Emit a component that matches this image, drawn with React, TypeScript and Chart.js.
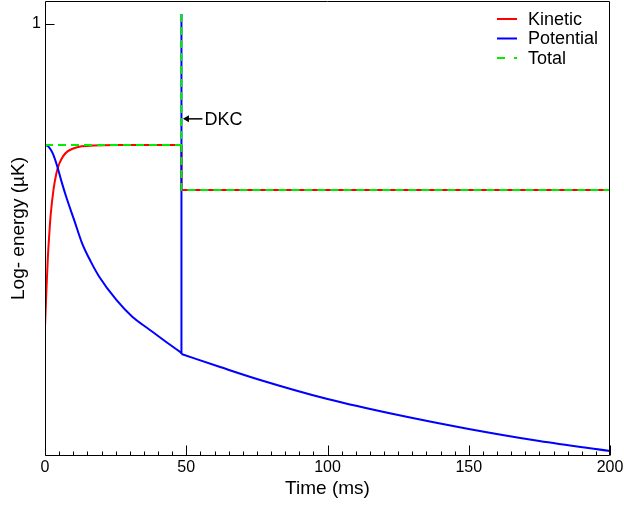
import { useEffect, useRef } from "react";
import { Chart, registerables } from "chart.js";

Chart.register(...registerables);

// Energy traces (µK) against time (ms); DKC pulse at 48.3 ms
const kineticTime = [0, 0.5, 1, 1.5, 2, 3, 4, 5, 6.5, 8, 10, 13, 17, 25, 48.3];
const kineticEnergy = [0.199, 0.242, 0.287, 0.325, 0.361, 0.413, 0.45, 0.474, 0.495, 0.507, 0.515, 0.521, 0.523, 0.5245, 0.5247];
const kineticAfterTime = [48.3, 48.3, 200];
const kineticAfterEnergy = [0.5247, 0.4127, 0.4127];

const potentialTime = [0, 1, 2, 3, 4.3, 5.7, 7.5, 10.3, 13.1, 16.3, 19.2, 25.2, 30.9, 36.9, 42.9, 48.3];
const potentialEnergy = [0.5247, 0.522, 0.512, 0.497, 0.469, 0.435, 0.398, 0.352, 0.311, 0.281, 0.26, 0.23, 0.21, 0.1963, 0.1836, 0.1732];
const potentialSpikeTime = [48.3, 48.3, 48.3];
const potentialSpikeEnergy = [0.1732, 1.0547, 0.1722];
const potentialAfterTime = [48.3, 62, 75, 100, 125, 150, 175, 200];
const potentialAfterEnergy = [0.1722, 0.1607, 0.1508, 0.1355, 0.1244, 0.1155, 0.1083, 0.1027];

// Total: flat, pulse peak, then flat again (the pulse is stroked once, top to bottom)
const totalTime = [0, 48.3, 48.3, 48.3, 48.3, 200];
const totalEnergy: (number | null)[] = [0.5247, 0.5247, null, 1.0547, 0.4127, 0.4127];

const xTickValues = [0, 50, 100, 150, 200];
const xMinorStep = 5;
const yTickValues = [1];

const seriesNames = ["Kinetic", "Potential", "Total"];
const seriesColors = ["#ff0000", "#0000ff", "#00ee00"];
const totalDash = [8, 5];
const legendDashes = [[], [], [8, 9]];

const dkcTime = 48.3;
const dkcLevel = 0.603;
const dkcLabel = "DKC";

const FONT = "'Liberation Sans', Arial, Helvetica, sans-serif";

const toPoints = (t: number[], v: (number | null)[]) => t.map((x, i) => ({ x, y: v[i] }));

const line = (data: { x: number; y: number | null }[], color: string, order: number, extra: any = {}) => ({
  data,
  borderColor: color,
  borderWidth: 2,
  pointRadius: 0,
  cubicInterpolationMode: "monotone",
  order,
  ...extra,
});

// Closed frame with inward tick marks
const framePlugin = {
  id: "frame",
  afterDatasetsDraw(chart: any) {
    const { ctx, chartArea, scales } = chart;
    const { left, right, top, bottom } = chartArea;
    const xs = scales.x;
    const ys = scales.y;
    const L = Math.round(left) + 0.5;
    const R = Math.round(right) - 0.5;
    const T = Math.round(top) + 0.5;
    const B = Math.round(bottom) - 0.5;
    ctx.save();
    ctx.strokeStyle = "#000";
    ctx.lineWidth = 1;
    ctx.beginPath();
    ctx.rect(L, T, R - L, B - T);
    ctx.stroke();
    ctx.beginPath();
    for (let v = xs.min; v <= xs.max + 1e-9; v += xMinorStep) {
      const px = Math.round(xs.getPixelForValue(v)) + 0.5;
      const major = xTickValues.includes(v);
      ctx.moveTo(px, B);
      ctx.lineTo(px, B - (major ? 10 : 4));
    }
    for (const v of yTickValues) {
      const py = Math.round(ys.getPixelForValue(v)) + 0.5;
      ctx.moveTo(L, py);
      ctx.lineTo(L + 9, py);
    }
    ctx.stroke();
    ctx.restore();
  },
};

// DKC marker arrow and label
const dkcPlugin = {
  id: "dkc",
  afterDatasetsDraw(chart: any) {
    const { ctx, scales } = chart;
    const px = scales.x.getPixelForValue(dkcTime);
    const py = scales.y.getPixelForValue(dkcLevel);
    const tip = px + 1.5;
    const tail = px + 21;
    ctx.save();
    ctx.strokeStyle = "#000";
    ctx.fillStyle = "#000";
    ctx.lineWidth = 1.5;
    ctx.beginPath();
    ctx.moveTo(tail, py);
    ctx.lineTo(tip + 4, py);
    ctx.stroke();
    ctx.beginPath();
    ctx.moveTo(tip, py);
    ctx.lineTo(tip + 6, py - 3.5);
    ctx.lineTo(tip + 6, py + 3.5);
    ctx.closePath();
    ctx.fill();
    ctx.font = `18px ${FONT}`;
    ctx.textBaseline = "middle";
    ctx.textAlign = "left";
    ctx.fillText(dkcLabel, tail + 2, py + 1);
    ctx.restore();
  },
};

// Legend in the top-right corner of the plot
const legendPlugin = {
  id: "cornerLegend",
  afterDraw(chart: any) {
    const { ctx, chartArea } = chart;
    const x0 = chartArea.right - 113;
    const y0 = chartArea.top + 18;
    const gap = 19.5;
    ctx.save();
    ctx.font = `18px ${FONT}`;
    ctx.textBaseline = "middle";
    ctx.textAlign = "left";
    seriesNames.forEach((name, i) => {
      const y = y0 + i * gap;
      ctx.strokeStyle = seriesColors[i];
      ctx.lineWidth = 2;
      ctx.setLineDash(legendDashes[i]);
      ctx.beginPath();
      ctx.moveTo(x0, y);
      ctx.lineTo(x0 + 20, y);
      ctx.stroke();
      ctx.setLineDash([]);
      ctx.fillStyle = "#000";
      ctx.fillText(name, x0 + 31, y + 1);
    });
    ctx.restore();
  },
};

export default function App() {
  const canvasRef = useRef<HTMLCanvasElement | null>(null);

  useEffect(() => {
    if (!canvasRef.current) return;
    Chart.defaults.font.family = FONT;
    const chart = new Chart(canvasRef.current, {
      type: "line",
      data: {
        datasets: [
          line(toPoints(kineticTime, kineticEnergy), seriesColors[0], 6, { label: seriesNames[0] }),
          line(toPoints(kineticAfterTime, kineticAfterEnergy), seriesColors[0], 5, { cubicInterpolationMode: "default", tension: 0 }),
          line(toPoints(potentialTime, potentialEnergy), seriesColors[1], 4, { label: seriesNames[1] }),
          line(toPoints(potentialSpikeTime, potentialSpikeEnergy), seriesColors[1], 3, { cubicInterpolationMode: "default", tension: 0 }),
          line(toPoints(potentialAfterTime, potentialAfterEnergy), seriesColors[1], 2),
          line(toPoints(totalTime, totalEnergy), seriesColors[2], 1, {
            label: seriesNames[2],
            borderDash: totalDash,
            cubicInterpolationMode: "default",
            tension: 0,
            spanGaps: false,
          }),
        ] as any,
      },
      options: {
        animation: false,
        responsive: true,
        maintainAspectRatio: false,
        layout: { padding: { left: 0, right: 14, top: 1, bottom: 0 } },
        plugins: { legend: { display: false }, tooltip: { enabled: false } },
        scales: {
          x: {
            type: "linear",
            min: 0,
            max: 200,
            afterBuildTicks: (scale: any) => {
              scale.ticks = xTickValues.map((value) => ({ value }));
            },
            afterFit: (scale: any) => {
              scale.height = 50;
              scale.paddingLeft = 0;
              scale.paddingRight = 0;
            },
            grid: { display: false, drawTicks: false },
            border: { display: false },
            ticks: {
              color: "#000",
              font: { size: 16 },
              padding: 2,
              maxRotation: 0,
              callback: (v: any) => String(v),
            },
            title: {
              display: true,
              text: "Time (ms)",
              color: "#000",
              font: { size: 19 },
              padding: { top: 0, bottom: 6 },
            },
          },
          y: {
            type: "logarithmic",
            min: 0.1,
            max: 1.13,
            afterBuildTicks: (scale: any) => {
              scale.ticks = yTickValues.map((value) => ({ value }));
            },
            afterFit: (scale: any) => {
              scale.width = 45;
              scale.paddingTop = 0;
              scale.paddingBottom = 0;
            },
            grid: { display: false, drawTicks: false },
            border: { display: false },
            ticks: {
              color: "#000",
              font: { size: 16 },
              padding: 4,
              callback: (v: any) => String(v),
            },
            title: {
              display: true,
              text: "Log- energy (µK)",
              color: "#000",
              font: { size: 19 },
              padding: { top: 7, bottom: 0 },
            },
          },
        },
      },
      plugins: [framePlugin, dkcPlugin, legendPlugin],
    });
    return () => chart.destroy();
  }, []);

  return (
    <div style={{ position: "fixed", left: 0, top: 0, width: 624, height: 506, background: "#fff" }}>
      <canvas ref={canvasRef} />
    </div>
  );
}
